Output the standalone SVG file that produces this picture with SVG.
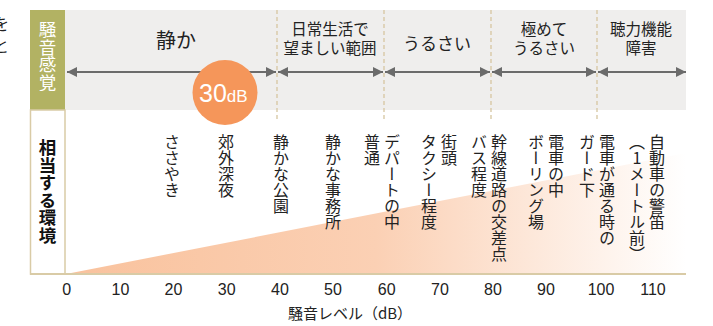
<svg xmlns="http://www.w3.org/2000/svg" width="713" height="326" viewBox="0 0 713 326">
<style>
.jp{font-family:"Noto Sans CJK JP","Noto Sans",sans-serif;fill:#222}
.num{font-family:"Liberation Sans",Arial,sans-serif;fill:#222;font-size:16px;text-anchor:middle}
.v{font-family:"Noto Sans CJK JP",sans-serif;fill:#222;font-size:16px;writing-mode:vertical-rl;text-orientation:upright}
.vl{font-family:"Noto Sans CJK JP",sans-serif;font-size:17.5px;writing-mode:vertical-rl;text-orientation:upright}
.hd{font-size:15.5px;text-anchor:middle}
.dash{stroke:#d6c6a0;stroke-width:1.3;stroke-dasharray:4 3}
.arr{stroke:#6b6b6b;stroke-width:2;marker-start:url(#ah);marker-end:url(#ah)}
</style>
<defs>
<marker id="ah" viewBox="0 0 10 10" refX="10" refY="5" markerWidth="10" markerHeight="11" markerUnits="userSpaceOnUse" orient="auto-start-reverse">
<path d="M0,0 L10,5 L0,10 z" fill="#6b6b6b"/>
</marker>
<linearGradient id="grad" x1="66" y1="0" x2="686" y2="0" gradientUnits="userSpaceOnUse">
<stop offset="0" stop-color="#f9c29d"/>
<stop offset="0.5" stop-color="#fbd0b4"/>
<stop offset="1" stop-color="#ffffff"/>
</linearGradient>
</defs>
<rect width="713" height="326" fill="#fff"/>
<g id="fragments">
<text class="jp" x="9" y="30" font-size="16" text-anchor="end">を</text>
<text class="jp" x="9" y="52" font-size="16" text-anchor="end">と</text>
</g>
<g id="band">
<rect x="65" y="10" width="621" height="100" fill="#efeeed"/>
</g>
<g id="gradient-area">
<polygon points="66,274 686,153 686,274" fill="url(#grad)"/>
</g>
<g id="label-sense">
<rect x="30" y="10" width="35" height="100" fill="#b2b263"/>
<text class="vl" x="47.5" y="21" fill="#ffffff">騒音感覚</text>
</g>
<g id="label-env">
<rect x="30.5" y="110" width="34.5" height="164" fill="#fff" stroke="#d9cba6" stroke-width="1.5"/>
<text class="vl" x="47.5" y="139" fill="#111111" font-weight="600">相当する環境</text>
</g>
<g id="dividers">
<line class="dash" x1="277" y1="10" x2="277" y2="121"/>
<line class="dash" x1="384" y1="10" x2="384" y2="121"/>
<line class="dash" x1="491" y1="10" x2="491" y2="121"/>
<line class="dash" x1="597" y1="10" x2="597" y2="121"/>
</g>
<g id="connectors">
<line class="arr" x1="67" y1="72" x2="276" y2="72"/>
<line class="arr" x1="278" y1="72" x2="383" y2="72"/>
<line class="arr" x1="385" y1="72" x2="490" y2="72"/>
<line class="arr" x1="492" y1="72" x2="596" y2="72"/>
<line class="arr" x1="598" y1="72" x2="686" y2="72"/>
</g>
<g id="range-quiet">
<text class="jp" x="176" y="48" font-size="20" text-anchor="middle">静か</text>
</g>
<g id="range-desirable">
<text class="jp hd"><tspan x="330" y="35">日常生活で</tspan><tspan x="330" y="54">望ましい範囲</tspan></text>
</g>
<g id="range-noisy">
<text class="jp" x="437" y="50" font-size="17" text-anchor="middle">うるさい</text>
</g>
<g id="range-very-noisy">
<text class="jp hd"><tspan x="544" y="35">極めて</tspan><tspan x="544" y="54">うるさい</tspan></text>
</g>
<g id="range-hearing">
<text class="jp hd"><tspan x="641" y="35">聴力機能</tspan><tspan x="641" y="54">障害</tspan></text>
</g>
<g id="badge-30db">
<circle cx="225" cy="92.5" r="32.5" fill="#f5965a"/>
<text x="199" y="102" font-family="Liberation Sans,Arial,sans-serif" fill="#fff"><tspan font-size="25">30</tspan><tspan font-size="17">dB</tspan></text>
</g>
<g id="examples">
<text class="v" x="172" y="134">ささやき</text>
<text class="v" x="226" y="134">郊外深夜</text>
<text class="v" x="281" y="134">静かな公園</text>
<text class="v" x="333" y="134">静かな事務所</text>
<text class="v" x="392" y="134">デパートの中</text>
<text class="v" x="372" y="134">普通</text>
<text class="v" x="449" y="134">街頭</text>
<text class="v" x="429" y="134">タクシー程度</text>
<text class="v" x="499" y="134">幹線道路の交差点</text>
<text class="v" x="479" y="134">バス程度</text>
<text class="v" x="556" y="134">電車の中</text>
<text class="v" x="536" y="134">ボーリング場</text>
<text class="v" x="607" y="134">電車が通る時の</text>
<text class="v" x="587" y="134">ガード下</text>
<text class="v" x="657" y="134">自動車の警笛</text>
<text class="v" x="637" y="134">（1メートル前）</text>
</g>
<g id="axis">
<line x1="30" y1="274" x2="686" y2="274" stroke="#d9cba6" stroke-width="2"/>
<text class="num" x="66.7" y="295">0</text>
<text class="num" x="120.5" y="295">10</text>
<text class="num" x="173.5" y="295">20</text>
<text class="num" x="226.7" y="295">30</text>
<text class="num" x="280" y="295">40</text>
<text class="num" x="333" y="295">50</text>
<text class="num" x="386.7" y="295">60</text>
<text class="num" x="440" y="295">70</text>
<text class="num" x="493" y="295">80</text>
<text class="num" x="546" y="295">90</text>
<text class="num" x="601" y="295">100</text>
<text class="num" x="653" y="295">110</text>
<text class="jp" x="350" y="319" font-size="15" text-anchor="middle">騒音レベル（dB）</text>
</g>
</svg>
